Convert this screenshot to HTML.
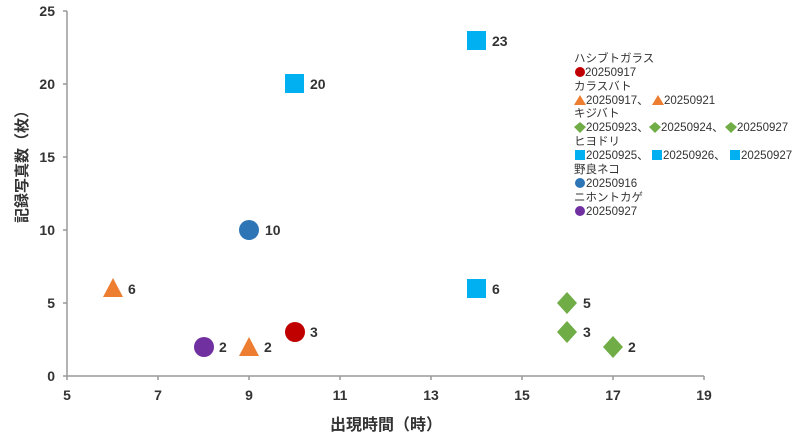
<!DOCTYPE html>
<html><head><meta charset="utf-8"><style>
body{margin:0;background:#fff}
svg{display:block;font-family:"Liberation Sans","Noto Sans CJK JP",sans-serif}
.t{font-size:14px;font-weight:bold;fill:#333}
.l{font-size:11.5px;fill:#333}
</style></head><body>
<svg width="800" height="440" viewBox="0 0 800 440">
<g stroke="#999" stroke-width="1.5">
<line x1="67" y1="11" x2="67" y2="376"/>
<line x1="67" y1="376" x2="704" y2="376"/>
<line x1="63" y1="11" x2="67" y2="11"/><line x1="63" y1="84" x2="67" y2="84"/><line x1="63" y1="157" x2="67" y2="157"/><line x1="63" y1="230" x2="67" y2="230"/><line x1="63" y1="303" x2="67" y2="303"/><line x1="63" y1="376" x2="67" y2="376"/>
<line x1="67" y1="376" x2="67" y2="380"/><line x1="158" y1="376" x2="158" y2="380"/><line x1="249" y1="376" x2="249" y2="380"/><line x1="340" y1="376" x2="340" y2="380"/><line x1="431" y1="376" x2="431" y2="380"/><line x1="522" y1="376" x2="522" y2="380"/><line x1="613" y1="376" x2="613" y2="380"/><line x1="704" y1="376" x2="704" y2="380"/>
</g>
<g class="t" text-anchor="end">
<text x="55" y="16">25</text><text x="55" y="89">20</text><text x="55" y="162">15</text><text x="55" y="235">10</text><text x="55" y="308">5</text><text x="55" y="381">0</text>
</g>
<g class="t" text-anchor="middle">
<text x="67" y="400">5</text><text x="158" y="400">7</text><text x="249" y="400">9</text><text x="340" y="400">11</text><text x="431" y="400">13</text><text x="522" y="400">15</text><text x="613" y="400">17</text><text x="704" y="400">19</text>
</g>
<text x="386" y="430" text-anchor="middle" style="font-size:16px;font-weight:bold;fill:#333">出現時間（時）</text>
<text transform="translate(27,163) rotate(-90)" text-anchor="middle" style="font-size:15px;font-weight:bold;fill:#333">記録写真数（枚）</text>
<polygon points="113,278 103,297 123,297" fill="#ed7d31"/>
<polygon points="249,337 239,356 259,356" fill="#ed7d31"/>
<circle cx="204" cy="347" r="10" fill="#7030a0"/>
<circle cx="249" cy="230" r="10" fill="#2e75b6"/>
<circle cx="295" cy="332" r="10" fill="#c00000"/>
<rect x="285" y="74" width="19" height="19" fill="#00b0f0"/>
<rect x="467" y="31" width="19" height="19" fill="#00b0f0"/>
<rect x="467" y="279" width="19" height="19" fill="#00b0f0"/>
<polygon points="567,292 577,303 567,314 557,303" fill="#70ad47"/>
<polygon points="567,321 577,332 567,343 557,332" fill="#70ad47"/>
<polygon points="613,336 623,347 613,358 603,347" fill="#70ad47"/>
<g class="t">
<text x="128" y="294">6</text><text x="264" y="352">2</text><text x="219" y="352">2</text><text x="265" y="235">10</text><text x="310" y="337">3</text>
<text x="310" y="89">20</text><text x="492" y="46">23</text><text x="492" y="294">6</text>
<text x="583" y="308">5</text><text x="583" y="337">3</text><text x="628" y="352">2</text>
</g>
<g class="l">
<text x="574" y="62">ハシブトガラス</text>
<circle cx="580" cy="72" r="5" fill="#c00000"/><text x="585" y="76">20250917</text>
<text x="574" y="90">カラスバト</text>
<polygon points="580,95 574,105 586,105" fill="#ed7d31"/><text x="586" y="104">20250917、</text>
<polygon points="658,95 652,105 664,105" fill="#ed7d31"/><text x="664" y="104">20250921</text>
<text x="574" y="117">キジバト</text>
<polygon points="580,122 586,127 580,133 574,127" fill="#70ad47"/><text x="586" y="131">20250923、</text>
<polygon points="655,122 661,127 655,133 649,127" fill="#70ad47"/><text x="661" y="131">20250924、</text>
<polygon points="731,122 737,127 731,133 725,127" fill="#70ad47"/><text x="737" y="131">20250927</text>
<text x="574" y="145">ヒヨドリ</text>
<rect x="575" y="150" width="10" height="10" fill="#00b0f0"/><text x="586" y="159">20250925、</text>
<rect x="652" y="150" width="10" height="10" fill="#00b0f0"/><text x="663" y="159">20250926、</text>
<rect x="730" y="150" width="10" height="10" fill="#00b0f0"/><text x="741" y="159">20250927</text>
<text x="574" y="173">野良ネコ</text>
<circle cx="580" cy="183" r="5" fill="#2e75b6"/><text x="586" y="187">20250916</text>
<text x="574" y="201">ニホントカゲ</text>
<circle cx="580" cy="211" r="5" fill="#7030a0"/><text x="586" y="215">20250927</text>
</g>
</svg>
</body></html>
